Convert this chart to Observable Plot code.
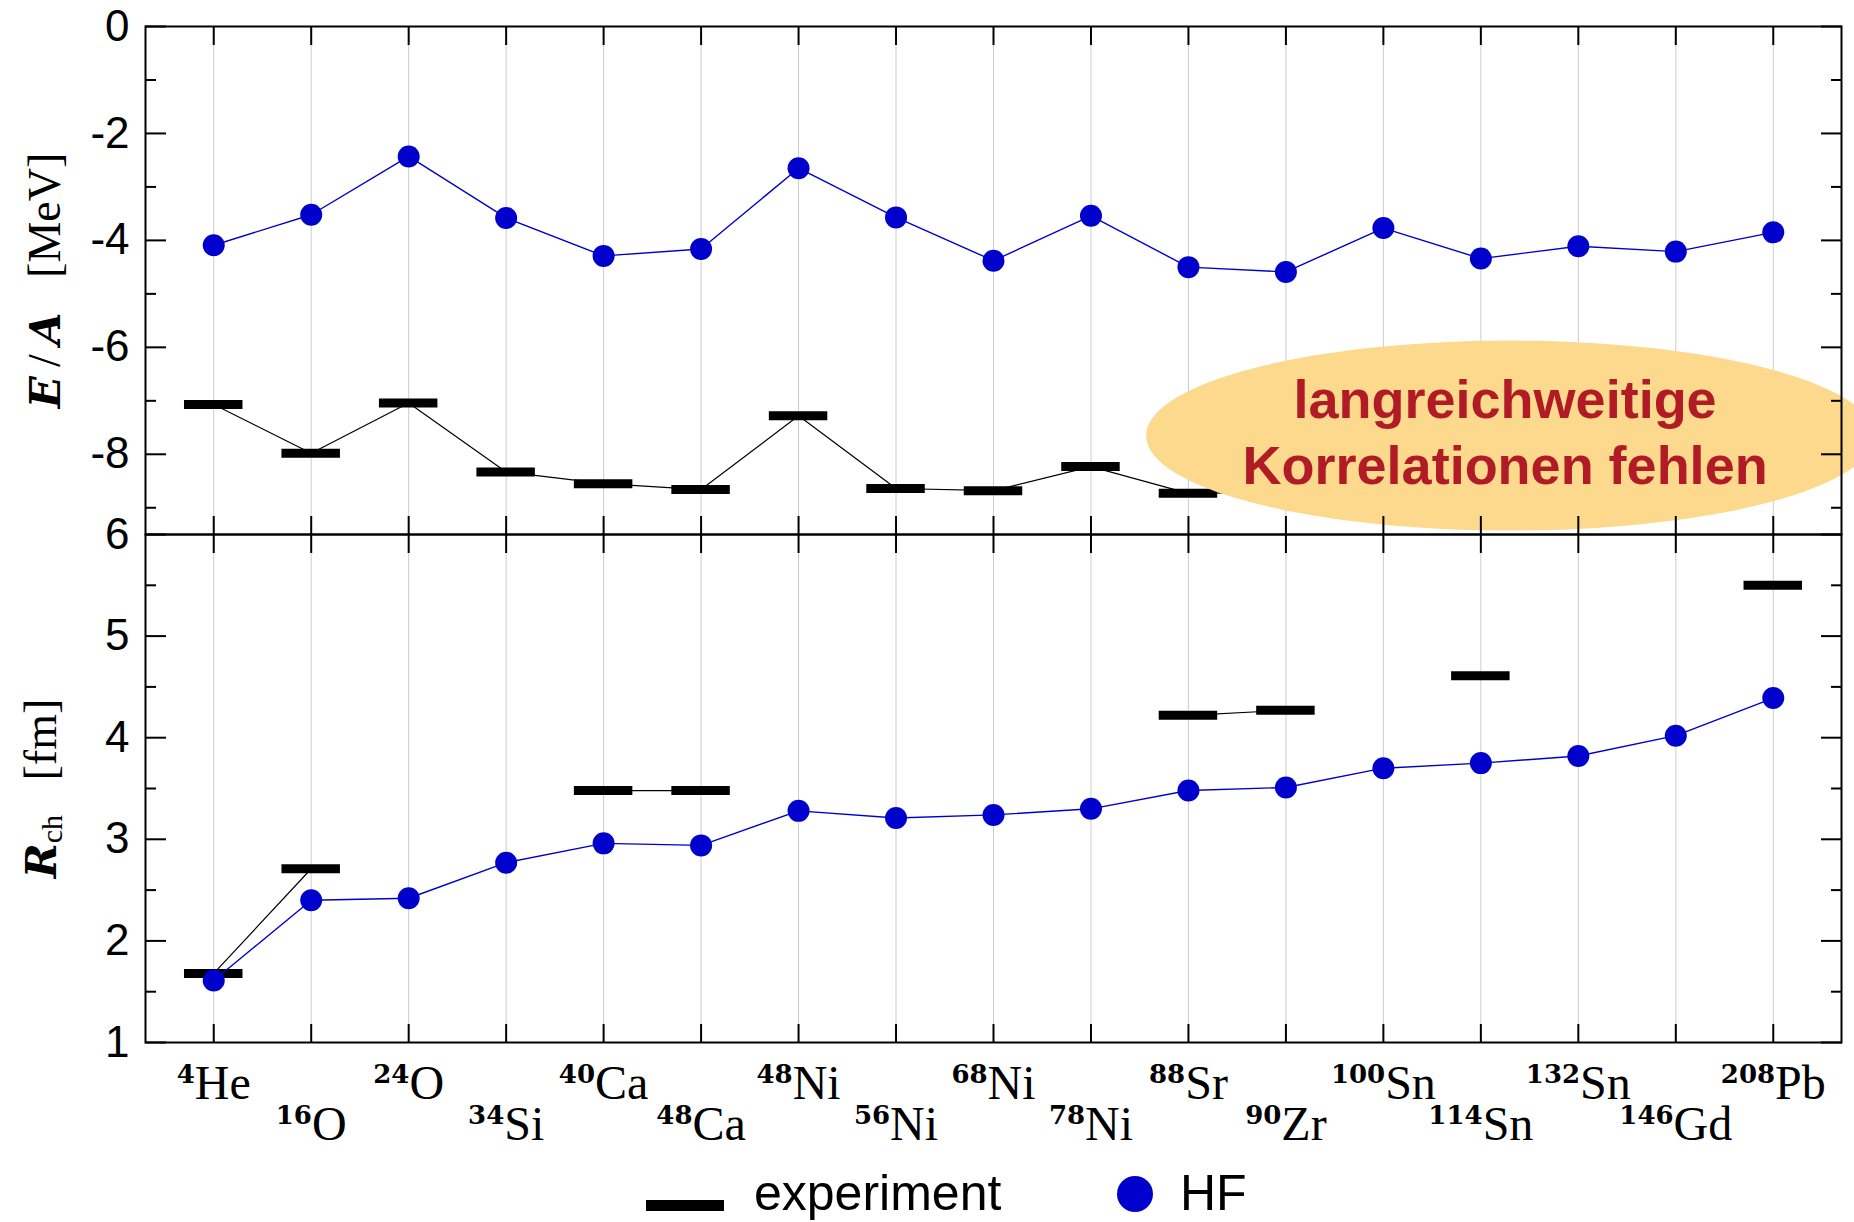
<!DOCTYPE html>
<html>
<head>
<meta charset="utf-8">
<script src="https://cdn.jsdelivr.net/npm/d3@7"></script>
<script src="https://cdn.jsdelivr.net/npm/@observablehq/plot@0.6"></script>
<style>
  html, body { margin: 0; padding: 0; background: #fff; }
  #root { position: relative; width: 1854px; height: 1222px; overflow: hidden; background: #fff; }
  #top, #bottom { position: absolute; left: 0; }
  #top { top: 0; }
  #bottom { top: 500px; }
  #legend { position: absolute; left: 0; top: 1160px; width: 1854px; height: 62px; }
  .lg-text { position: absolute; font-family: "Liberation Sans", Arial, sans-serif; font-size: 50px; line-height: 50px; color: #000; white-space: nowrap; }
</style>
</head>
<body>
<div id="root">
  <div id="top"></div>
  <div id="bottom"></div>
  <div id="legend"></div>
</div>
<script>
// ---------------- data ----------------
const massNumbers = [4, 16, 24, 34, 40, 48, 48, 56, 68, 78, 88, 90, 100, 114, 132, 146, 208];
const elements = ["He", "O", "O", "Si", "Ca", "Ca", "Ni", "Ni", "Ni", "Ni", "Sr", "Zr", "Sn", "Sn", "Sn", "Gd", "Pb"];

// binding energy per nucleon E/A [MeV]
const hfEA  = [-4.09, -3.52, -2.43, -3.58, -4.29, -4.16, -2.65, -3.57, -4.38, -3.54, -4.50, -4.59, -3.77, -4.34, -4.11, -4.21, -3.85];
const expEA = [-7.07, -7.98, -7.04, -8.33, -8.55, -8.66, -7.28, -8.64, -8.68, -8.23, -8.73, -8.71, -8.25, -8.52, -8.35, -8.25, -7.87];

// charge radius R_ch [fm]
const hfR  = [1.61, 2.40, 2.42, 2.77, 2.96, 2.94, 3.28, 3.21, 3.24, 3.30, 3.48, 3.51, 3.70, 3.75, 3.82, 4.02, 4.39];
const expR = [1.68, 2.71, null, null, 3.48, 3.48, null, null, null, null, 4.22, 4.27, null, 4.61, null, null, 5.50];

const topMajor = [0, -2, -4, -6, -8];
const topMinor = [-1, -3, -5, -7, -9];
const botMajor = [1, 2, 3, 4, 5, 6];
const botMinor = [1.5, 2.5, 3.5, 4.5, 5.5];

const noteLines = ["langreichweitige", "Korrelationen fehlen"];
const legendLabels = ["experiment", "HF"];
const yTitleTop = "E/A  [MeV]";
const yTitleBot = "Rch  [fm]";

// ---------------- styling ----------------
const BLUE = "#0000cc";
const GRID = "#cccccc";
const SERIF = "Liberation Serif, serif";
const SANS = "Liberation Sans, Arial, sans-serif";
const idx = massNumbers.map((_, i) => i);
const xDomain = [-0.7, 16.7];
const W = 1854;

function frameAxes(major, minor) {
  return [
    Plot.axisY(major, {anchor: "left", tickSize: -21, tickPadding: 37, strokeWidth: 2,
      tickFormat: d => String(d), fontSize: 44, fontFamily: SANS, label: null}),
    Plot.axisY(minor, {anchor: "left", tickSize: -11, strokeWidth: 2, tickFormat: () => "", label: null}),
    Plot.axisY(major, {anchor: "right", tickSize: -21, strokeWidth: 2, tickFormat: () => "", label: null}),
    Plot.axisY(minor, {anchor: "right", tickSize: -11, strokeWidth: 2, tickFormat: () => "", label: null}),
    Plot.axisX(idx, {anchor: "top", tickSize: -18, strokeWidth: 2, tickFormat: () => "", label: null}),
    Plot.axisX(idx, {anchor: "bottom", tickSize: -18, strokeWidth: 2, tickFormat: () => "", label: null}),
    Plot.frame({stroke: "black", strokeWidth: 2})
  ];
}

// ellipse drawn as a custom dot symbol (pixel radii)
const ellipseSymbol = {
  draw(context) {
    const rx = 364, ry = 95, n = 160;
    for (let k = 0; k <= n; k++) {
      const t = (2 * Math.PI * k) / n;
      const px = rx * Math.cos(t), py = ry * Math.sin(t);
      if (k === 0) context.moveTo(px, py); else context.lineTo(px, py);
    }
    context.closePath();
  }
};
const noteX = 13.30, noteY = -7.65;

const topPlot = Plot.plot({
  width: W, height: 560,
  marginTop: 26, marginBottom: 26, marginLeft: 145, marginRight: 13,
  style: {background: "transparent", overflow: "visible"},
  x: {domain: xDomain},
  y: {domain: [-9.5, 0]},
  marks: [
    Plot.ruleX(idx, {x: i => i, stroke: GRID, strokeWidth: 1}),
    Plot.line(idx, {x: i => i, y: i => expEA[i], stroke: "black", strokeWidth: 1.2}),
    Plot.ruleY(idx, {y: i => expEA[i], x1: i => i - 0.3, x2: i => i + 0.3, stroke: "black", strokeWidth: 9}),
    Plot.line(idx, {x: i => i, y: i => hfEA[i], stroke: BLUE, strokeWidth: 1.4}),
    Plot.dot(idx, {x: i => i, y: i => hfEA[i], r: 11, fill: BLUE}),
    Plot.dot([0], {x: () => noteX, y: () => noteY, symbol: ellipseSymbol, fill: "#fdd98e"}),
    Plot.text([noteLines[0]], {x: () => noteX, y: () => noteY, text: d => d, dx: -5, dy: -18,
      lineAnchor: "bottom", textAnchor: "middle", fontSize: 54, fontWeight: "bold", fontFamily: SANS, fill: "#b01b26"}),
    Plot.text([noteLines[1]], {x: () => noteX, y: () => noteY, text: d => d, dx: -5, dy: 48,
      lineAnchor: "bottom", textAnchor: "middle", fontSize: 54, fontWeight: "bold", fontFamily: SANS, fill: "#b01b26"}),
    ...frameAxes(topMajor, topMinor),
    Plot.text([yTitleTop], {frameAnchor: "left", dx: -100, rotate: -90, text: d => d,
      fontSize: 46, fontFamily: SERIF, textAnchor: "middle", lineAnchor: "middle"})
  ]
});

const botPlot = Plot.plot({
  width: W, height: 660,
  marginTop: 34, marginBottom: 118, marginLeft: 145, marginRight: 13,
  style: {background: "transparent", overflow: "visible"},
  x: {domain: xDomain},
  y: {domain: [1, 6]},
  marks: [
    Plot.ruleX(idx, {x: i => i, stroke: GRID, strokeWidth: 1}),
    Plot.line(idx, {x: i => i, y: i => (expR[i] == null ? NaN : expR[i]), stroke: "black", strokeWidth: 1.2}),
    Plot.ruleY(idx.filter(i => expR[i] != null), {y: i => expR[i], x1: i => i - 0.3, x2: i => i + 0.3, stroke: "black", strokeWidth: 9}),
    Plot.line(idx, {x: i => i, y: i => hfR[i], stroke: BLUE, strokeWidth: 1.4}),
    Plot.dot(idx, {x: i => i, y: i => hfR[i], r: 11, fill: BLUE}),
    ...frameAxes(botMajor, botMinor),
    Plot.text(idx.filter(i => i % 2 === 0), {x: i => i, text: i => massNumbers[i] + elements[i],
      frameAnchor: "bottom", dy: 56, lineAnchor: "bottom", textAnchor: "middle", fontSize: 48, fontFamily: SERIF}),
    Plot.text(idx.filter(i => i % 2 === 1), {x: i => i, text: i => massNumbers[i] + elements[i],
      frameAnchor: "bottom", dy: 97, lineAnchor: "bottom", textAnchor: "middle", fontSize: 48, fontFamily: SERIF}),
    Plot.text([yTitleBot], {frameAnchor: "left", dx: -104, rotate: -90, text: d => d,
      fontSize: 46, fontFamily: SERIF, textAnchor: "middle", lineAnchor: "middle"})
  ]
});

// ---------- rich text (superscripts, subscripts, italics) ----------
const NS = "http://www.w3.org/2000/svg";
function tspan(txt, attrs) {
  const t = document.createElementNS(NS, "tspan");
  for (const k in attrs) t.setAttribute(k, attrs[k]);
  t.textContent = txt;
  return t;
}
const BI = {"font-weight": "bold", "font-style": "italic", "font-family": "DejaVu Serif, serif", "font-size": 42};
function richify(svg) {
  svg.querySelectorAll("text").forEach(t => {
    const s = t.textContent;
    let m;
    if ((m = s.match(/^(\d+)([A-Z][a-z]?)$/))) {
      t.textContent = "";
      t.appendChild(tspan(m[1], {"font-size": 26, "font-weight": "bold", "font-family": "DejaVu Serif, serif", dy: -16}));
      t.appendChild(tspan(m[2], {dy: 16}));
    } else if (s === yTitleTop) {
      t.textContent = "";
      t.appendChild(tspan("E", BI));
      t.appendChild(tspan("\u2009/\u2009", {}));
      t.appendChild(tspan("A", BI));
      t.appendChild(tspan("\u00a0\u00a0\u00a0[MeV]", {}));
    } else if (s === yTitleBot) {
      t.textContent = "";
      t.appendChild(tspan("R", BI));
      t.appendChild(tspan("ch", {"font-size": 30, dy: 6}));
      t.appendChild(tspan("\u00a0\u00a0\u00a0[fm]", {dy: -6}));
    }
  });
}
richify(topPlot);
richify(botPlot);
document.getElementById("top").appendChild(topPlot);
document.getElementById("bottom").appendChild(botPlot);

// ---------------- legend ----------------
const lg = document.getElementById("legend");
lg.innerHTML = `
  <div style="position:absolute;left:646px;top:${1205 - 1160 - 5.5}px;width:78px;height:11px;background:#000"></div>
  <div class="lg-text" style="left:754px;top:${1168 - 1160}px">${legendLabels[0]}</div>
  <div style="position:absolute;left:${1135 - 18}px;top:${1194 - 1160 - 18}px;width:36px;height:36px;border-radius:50%;background:${BLUE}"></div>
  <div class="lg-text" style="left:1180px;top:${1168 - 1160}px">${legendLabels[1]}</div>
`;
</script>
</body>
</html>
